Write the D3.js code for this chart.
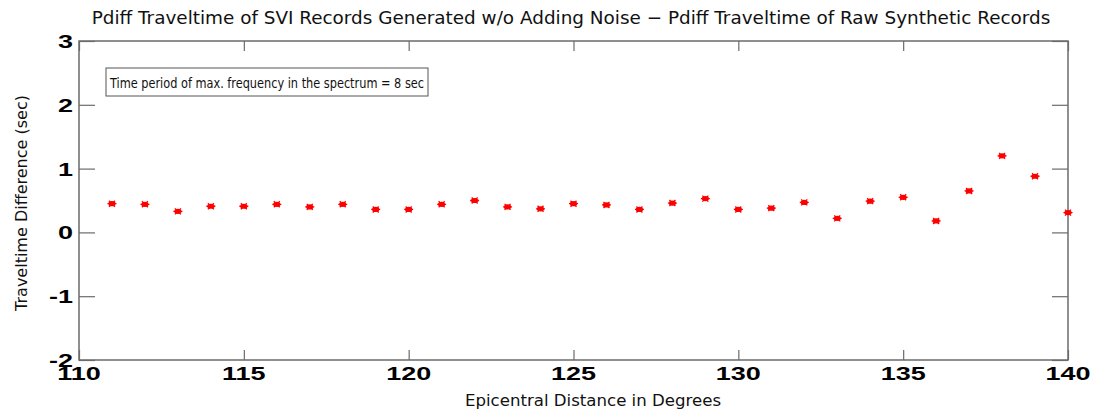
<!DOCTYPE html>
<html><head><meta charset="utf-8">
<script src="https://cdn.jsdelivr.net/npm/d3@7"></script>
<style>body{margin:0;background:#fff}svg{display:block}</style>
</head><body>
<svg id="c" width="1095" height="414"></svg>
<script>
const distances = [111,112,113,114,115,116,117,118,119,120,121,122,123,124,125,126,127,128,129,130,131,132,133,134,135,136,137,138,139,140];
const diffs = [0.45,0.44,0.33,0.41,0.41,0.44,0.40,0.44,0.36,0.36,0.44,0.50,0.40,0.37,0.45,0.43,0.36,0.46,0.53,0.36,0.38,0.47,0.22,0.49,0.55,0.18,0.65,1.20,0.88,0.31];
const xTicks = [110,115,120,125,130,135,140];
const yTicks = [-2,-1,0,1,2,3];
const titleText = "Pdiff Traveltime of SVI Records Generated w/o Adding Noise \u2212 Pdiff Traveltime of Raw Synthetic Records";
const xLabel = "Epicentral Distance in Degrees";
const yLabel = "Traveltime Difference (sec)";
const legendText = "Time period of max. frequency in the spectrum = 8 sec";

const svg = d3.select("#c");
const L=79,R=1068,T=41,B=360;
const x = d3.scaleLinear().domain([110,140]).range([L,R]);
const y = d3.scaleLinear().domain([-2,3]).range([B,T]);
const axisCol = "#6b6b6b";

svg.append("rect").attr("x",L).attr("y",T).attr("width",R-L).attr("height",B-T)
  .attr("fill","none").attr("stroke",axisCol).attr("stroke-width",1.5);

const gx = svg.append("g").attr("transform",`translate(0,${B})`)
  .call(d3.axisBottom(x).tickValues(xTicks).tickSize(-10).tickFormat(""));
gx.select(".domain").remove();
gx.selectAll(".tick line").attr("stroke",axisCol).attr("stroke-width",1.2);
const gxt = svg.append("g").attr("transform",`translate(0,${T})`)
  .call(d3.axisTop(x).tickValues(xTicks).tickSize(-10).tickFormat(""));
gxt.select(".domain").remove();
gxt.selectAll(".tick line").attr("stroke",axisCol).attr("stroke-width",1.2);

const gy = svg.append("g").attr("transform",`translate(${L},0)`)
  .call(d3.axisLeft(y).tickValues(yTicks).tickSize(-16).tickFormat(""));
gy.select(".domain").remove();
gy.selectAll(".tick line").attr("stroke",axisCol).attr("stroke-width",1.2);
const gyr = svg.append("g").attr("transform",`translate(${R},0)`)
  .call(d3.axisRight(y).tickValues(yTicks).tickSize(-16).tickFormat(""));
gyr.select(".domain").remove();
gyr.selectAll(".tick line").attr("stroke",axisCol).attr("stroke-width",1.2);

const tf = "'Liberation Sans', Arial, sans-serif";
svg.append("g").selectAll("text").data(xTicks).join("text")
  .attr("transform",d=>`translate(${x(d)},${B+20}) scale(1.5,1)`)
  .attr("text-anchor","middle").attr("font-family",tf).attr("font-weight","bold")
  .attr("font-size",18).attr("fill","#000").text(d=>d);
svg.append("g").selectAll("text").data(yTicks).join("text")
  .attr("transform",d=>`translate(${L-6},${y(d)+7}) scale(1.5,1)`)
  .attr("text-anchor","end").attr("font-family",tf).attr("font-weight","bold")
  .attr("font-size",18).attr("fill","#000").text(d=>d);

svg.append("text").attr("x",571).attr("y",24).attr("text-anchor","middle")
  .attr("font-family","'DejaVu Sans', sans-serif").attr("font-size",18.4).attr("fill","#111").text(titleText);
svg.append("text").attr("x",593).attr("y",406).attr("text-anchor","middle")
  .attr("font-family","'DejaVu Sans', sans-serif").attr("font-size",16.6).attr("fill","#111").text(xLabel);
svg.append("text").attr("transform","translate(27,203) rotate(-90)").attr("text-anchor","middle")
  .attr("font-family","'DejaVu Sans', sans-serif").attr("font-size",16).attr("fill","#111").text(yLabel);

svg.append("rect").attr("x",106).attr("y",68).attr("width",322).attr("height",28)
  .attr("fill","#fff").attr("stroke","#555").attr("stroke-width",1);
svg.append("text").attr("x",110).attr("y",87.5).attr("font-family","'DejaVu Sans Condensed','DejaVu Sans',sans-serif")
  .attr("font-size",14).attr("textLength",314).attr("lengthAdjust","spacingAndGlyphs")
  .attr("fill","#111").text(legendText);

const data = distances.map((d,i)=>({d, v:diffs[i]}));
const mark = svg.append("g").selectAll("g").data(data).join("g")
  .attr("transform",p=>`translate(${x(p.d)},${y(p.v)})`);
mark.append("ellipse").attr("rx",3.6).attr("ry",2.6).attr("fill","#ff0000");
mark.append("path").attr("d","M-4.5,0H4.5M-3,-3L3,3M-3,3L3,-3").attr("stroke","#ff0000").attr("stroke-width",1.3);
</script>
</body></html>
